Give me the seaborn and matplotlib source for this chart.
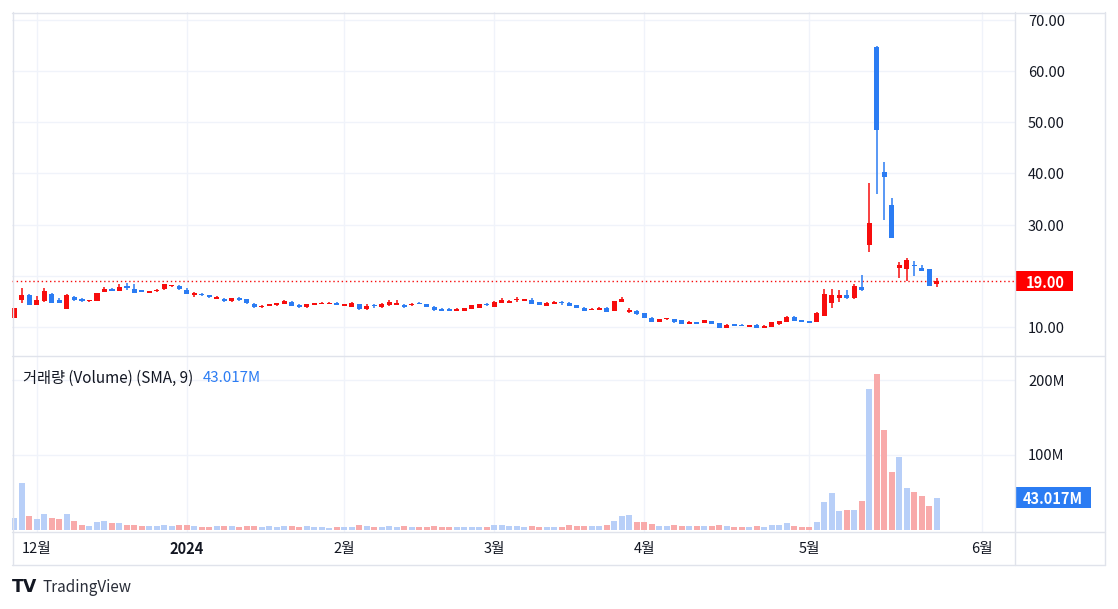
import numpy as np
import pandas as pd
import matplotlib
matplotlib.use("Agg")
import matplotlib.pyplot as plt
import matplotlib.transforms as mtrans
import seaborn as sns
from matplotlib.lines import Line2D
from matplotlib.patches import Rectangle

# ---------------- data ----------------
holidays = ["2023-12-25", "2024-01-01", "2024-01-15", "2024-02-19", "2024-03-29"]
dates = [d for d in pd.bdate_range("2023-11-28", "2024-05-24")
         if d.strftime("%Y-%m-%d") not in holidays]

open_ = [11.8, 15.28, 16.25, 14.36, 15.15, 16.45, 15.28, 13.58, 15.8, 15.47,
         15.0, 15.15, 16.84, 17.5, 17.1, 17.95, 17.43, 17.17, 16.7, 16.97,
         17.36, 17.95, 18.08, 17.23, 16.19, 16.5, 16.25, 15.54, 15.54, 15.0,
         15.73, 15.4, 14.56, 13.84, 14.1, 14.23, 14.5, 14.95, 14.36, 13.84,
         14.36, 14.43, 14.43, 14.6, 14.17, 13.97, 14.5, 13.45, 14.17, 13.84,
         14.23, 14.3, 14.17, 14.23, 14.63, 14.5, 13.97, 13.58, 13.58, 13.19,
         13.19, 13.58, 13.78, 14.43, 13.97, 14.69, 14.76, 15.2, 15.15, 15.34,
         14.82, 14.1, 14.56, 14.76, 14.63, 14.3, 13.78, 13.32, 13.39, 13.78,
         13.19, 14.95, 13.0, 13.19, 12.67, 11.82, 11.0, 11.5, 11.5, 11.37,
         10.65, 10.98, 10.85, 11.17, 10.78, 9.87, 10.52, 10.39, 10.07, 10.46,
         9.87, 10.07, 10.59, 11.04, 11.89, 11.24, 11.1, 11.04, 12.2, 14.76,
         15.73, 16.2, 15.73, 17.75, 26.0, 64.8, 40.2, 33.84, 21.6, 21.4,
         22.12, 21.6, 21.27, 18.34]
high = [13.7, 17.69, 16.4, 16.06, 17.56, 16.7, 15.6, 16.45, 16.06, 15.67,
        15.25, 16.7, 17.75, 17.6, 18.4, 18.66, 18.4, 17.25, 17.1, 17.4,
        18.5, 18.3, 18.2, 17.56, 16.75, 16.6, 16.3, 16.06, 15.6, 15.75,
        15.8, 15.45, 14.6, 14.25, 14.55, 14.7, 15.3, 15.0, 14.4, 14.55,
        14.7, 14.8, 14.9, 14.95, 14.45, 14.8, 14.55, 14.43, 14.5, 14.63,
        15.28, 15.28, 14.5, 14.63, 14.9, 14.55, 14.17, 13.65, 13.65, 13.65,
        13.75, 14.3, 14.5, 14.76, 15.0, 15.6, 15.28, 15.93, 15.5, 15.6,
        14.9, 14.8, 15.0, 15.08, 14.9, 14.35, 13.85, 13.65, 13.85, 13.85,
        15.1, 15.8, 13.65, 13.25, 12.75, 12.0, 11.6, 11.8, 11.6, 11.45,
        11.1, 11.0, 11.45, 11.2, 10.85, 10.6, 10.6, 10.65, 10.45, 10.5,
        10.3, 11.04, 11.24, 12.2, 12.08, 11.4, 11.2, 13.0, 17.43, 17.43,
        17.23, 17.17, 18.34, 20.16, 38.2, 64.83, 42.3, 35.3, 22.77, 23.4,
        22.96, 22.1, 21.3, 19.5]
low = [11.7, 14.76, 14.3, 14.3, 14.82, 14.7, 14.7, 13.5, 15.15, 14.95,
       14.95, 15.1, 16.8, 17.05, 17.05, 17.2, 16.6, 16.8, 16.55, 16.9,
       17.3, 17.9, 17.3, 16.45, 15.93, 16.1, 15.75, 15.5, 14.95, 14.95,
       15.15, 14.5, 13.8, 13.8, 14.05, 14.2, 14.45, 14.05, 13.8, 13.8,
       14.3, 14.4, 14.4, 14.3, 14.1, 13.9, 13.4, 13.4, 13.78, 13.8,
       14.2, 14.25, 13.78, 14.2, 14.4, 13.9, 13.13, 13.13, 13.13, 13.13,
       13.13, 13.5, 13.7, 14.17, 13.9, 14.6, 14.7, 14.9, 15.1, 14.5,
       14.3, 14.05, 14.5, 14.3, 14.1, 13.7, 13.1, 13.3, 13.3, 12.95,
       13.1, 14.8, 12.68, 12.4, 11.7, 10.95, 10.95, 11.45, 10.85, 10.6,
       10.6, 10.6, 10.8, 10.6, 9.8, 9.8, 10.15, 10.15, 10.0, 9.8,
       9.8, 10.0, 10.4, 11.0, 11.2, 11.0, 10.8, 11.0, 12.1, 13.65,
       14.95, 15.4, 15.4, 17.1, 24.6, 36.0, 30.9, 27.4, 19.64, 19.06,
       19.97, 20.9, 18.0, 17.75]
close = [13.65, 16.25, 14.36, 15.28, 17.04, 14.76, 14.76, 16.25, 15.34, 15.0,
         15.2, 16.65, 17.43, 17.1, 17.8, 17.56, 16.7, 16.84, 17.04, 17.3,
         18.4, 18.14, 17.36, 16.5, 16.7, 16.19, 15.8, 15.67, 15.0, 15.67,
         15.2, 14.63, 13.84, 14.17, 14.5, 14.6, 15.0, 14.1, 13.84, 14.5,
         14.6, 14.76, 14.6, 14.36, 14.36, 14.76, 13.45, 14.17, 14.04, 14.43,
         14.82, 14.76, 13.97, 14.43, 14.43, 13.97, 13.32, 13.19, 13.19, 13.58,
         13.71, 14.23, 14.43, 14.23, 14.95, 15.34, 15.0, 15.4, 15.4, 14.56,
         14.36, 14.76, 14.95, 14.63, 14.17, 13.78, 13.19, 13.58, 13.78, 13.0,
         15.08, 15.41, 13.19, 12.48, 11.76, 11.0, 11.56, 11.7, 10.9, 10.65,
         11.04, 10.65, 11.37, 10.65, 9.87, 10.46, 10.2, 10.2, 10.39, 9.87,
         10.26, 10.98, 11.17, 11.95, 11.24, 11.04, 10.85, 12.8, 16.45, 16.25,
         16.25, 15.6, 18.0, 17.23, 30.26, 48.5, 39.3, 27.46, 22.1, 23.1,
         21.92, 21.0, 18.08, 19.0]
volume_m = [15.6, 62.2, 19.1, 14.7, 21.3, 16.0, 14.7, 21.3, 12.0, 7.1,
            5.3, 10.7, 12.0, 9.3, 9.3, 7.1, 7.1, 5.3, 5.3, 5.3,
            7.1, 5.3, 7.1, 7.1, 5.3, 4.0, 4.0, 5.3, 5.3, 5.3,
            4.0, 5.3, 5.3, 4.0, 5.3, 4.0, 5.3, 5.3, 4.0, 5.3,
            4.0, 4.0, 2.7, 4.0, 4.0, 4.0, 7.1, 5.3, 4.0, 4.0,
            5.3, 4.0, 5.3, 4.0, 4.0, 4.0, 5.3, 4.0, 4.0, 4.0,
            4.0, 4.0, 4.0, 4.0, 7.1, 7.1, 5.3, 5.3, 4.0, 5.3,
            4.0, 4.0, 4.0, 4.0, 7.1, 5.3, 5.3, 5.3, 5.3, 7.1,
            12.0, 18.7, 20.4, 10.7, 10.7, 8.4, 5.3, 5.3, 6.7, 5.3,
            5.3, 5.3, 5.3, 5.3, 6.7, 5.3, 4.0, 4.0, 4.0, 5.3,
            4.0, 6.7, 6.7, 8.9, 5.3, 4.0, 4.0, 10.7, 36.9, 48.9,
            24.9, 26.7, 26.7, 38.7, 188.0, 208.0, 133.0, 77.3, 97.3, 56.0,
            50.7, 45.3, 32.4, 43.017]

month_tick_dates = ["2023-12-01", "2024-01-02", "2024-02-01", "2024-03-01",
                    "2024-04-01", "2024-05-01", "2024-06-03"]
month_labels = ["12월", "2024", "2월", "3월", "4월", "5월", "6월"]
price_labels = [10, 30, 40, 50, 60, 70]
price_grid = [10, 20, 30, 40, 50, 60, 70]
volume_labels = [100, 200]
last_price = 19.00
last_volume = 43.017
legend_title = "거래량 (Volume) (SMA, 9)"

# ---------------- styling ----------------
RED = "#f70d0d"
BLUE = "#2b7cf3"
VRED = "#f8aaaa"
VBLUE = "#b8cff8"
GRID = "#f0f3fa"
BORDER = "#e0e3eb"
TXT = "#131722"

sns.set_theme(style="white")
plt.rcParams["font.family"] = ["Noto Sans CJK KR", "DejaVu Sans"]

W, H = 1118, 609
fig = plt.figure(figsize=(W / 100, H / 100), dpi=100)
fig.patch.set_facecolor("white")


def fx(x):
    return x / W


def fy(y):
    return 1 - y / H


L, R = 12, 1015
ax = fig.add_axes([fx(L), fy(356), fx(R) - fx(L), fy(12) - fy(356)])
axv = fig.add_axes([fx(L), fy(532), fx(R) - fx(L), fy(356) - fy(532)])

n = len(dates)
idx = np.arange(n)
o = np.array(open_)
h = np.array(high)
lo = np.array(low)
c = np.array(close)
up = c >= o

# positions of month ticks (future ticks counted in weekdays)
date_strs = [d.strftime("%Y-%m-%d") for d in dates]
tick_pos = []
for t in month_tick_dates:
    if t in date_strs:
        tick_pos.append(date_strs.index(t))
    else:
        extra = len(pd.bdate_range(dates[-1] + pd.Timedelta(days=1), t))
        tick_pos.append(n - 1 + extra)

x0 = 14.3
dx = 7.5
xlim = ((L - x0) / dx, (R - x0) / dx)


def price_at(Y):
    return 10 + (327 - Y) / 5.117


def vol_at(Y):
    return (530 - Y) / 0.75


# ---------------- price pane ----------------
for g in price_grid:
    ax.axhline(g, color=GRID, lw=1, zorder=0)
for p in tick_pos:
    ax.axvline(p, color=GRID, lw=1, zorder=0)
    axv.axvline(p, color=GRID, lw=1, zorder=0)

cols = np.where(up, RED, BLUE)
ax.vlines(idx, lo, h, colors=cols, lw=1.1, zorder=2)
body_bottom = np.minimum(o, c)
body_h = np.maximum(np.abs(c - o), 0.28)
ax.bar(idx, body_h, bottom=body_bottom, width=0.72, color=cols, linewidth=0, zorder=3)

ax.axhline(last_price, color=RED, lw=1, ls=(0, (1, 2)), zorder=1)
ax.set_xlim(*xlim)
ax.set_ylim(price_at(356), price_at(12))

# ---------------- volume pane (seaborn) ----------------
for g in volume_labels:
    axv.axhline(g, color=GRID, lw=1, zorder=0)
vdf = pd.DataFrame({"i": idx, "vol": volume_m, "dir": np.where(up, "up", "down")})
sns.barplot(data=vdf, x="i", y="vol", hue="dir",
            palette={"up": VBLUE, "down": VRED}, native_scale=True, dodge=False,
            saturation=1, errorbar=None, width=0.84, legend=False, ax=axv,
            linewidth=0, zorder=2)
axv.set_xlim(*xlim)
axv.set_ylim(vol_at(532), vol_at(356))

for a in (ax, axv):
    a.set_xlabel("")
    a.set_ylabel("")
    a.set_xticks([])
    a.set_yticks([])
    for s in a.spines.values():
        s.set_visible(False)
    a.set_facecolor("none")

# ---------------- right axis labels ----------------
lab_x = (1028 - L) / (R - L)
p_tr = mtrans.offset_copy(ax.get_yaxis_transform(), fig=fig, x=0, y=-2, units="dots")
v_tr = mtrans.offset_copy(axv.get_yaxis_transform(), fig=fig, x=0, y=-1.5, units="dots")
for v in price_labels:
    ax.text(lab_x, v, f"{v:.2f}", transform=p_tr,
            ha="left", va="center", fontsize=10.5, color=TXT, clip_on=False)
for v in volume_labels:
    axv.text(lab_x, v, f"{v}M", transform=v_tr,
             ha="left", va="center", fontsize=10.5, color=TXT, clip_on=False)

# last price badge
bh = 20 / 5.117
ax.add_patch(Rectangle((1.0, last_price - bh / 2), (1073 - R) / (R - L), bh,
                       transform=ax.get_yaxis_transform(), facecolor="#ff0000",
                       edgecolor="none", clip_on=False, zorder=5))
ax.text((1045 - L) / (R - L), last_price, f"{last_price:.2f}", transform=p_tr,
        ha="center", va="center", fontsize=10.5, color="white", fontweight="bold",
        clip_on=False, zorder=6)

# last volume badge
vh = 21 / 0.75
axv.add_patch(Rectangle((1.0, last_volume - vh / 2), (1091 - R) / (R - L), vh,
                        transform=axv.get_yaxis_transform(), facecolor="#2b7cf3",
                        edgecolor="none", clip_on=False, zorder=5))
axv.text((1053 - L) / (R - L), last_volume, f"{last_volume:.3f}M", transform=v_tr,
         ha="center", va="center", fontsize=10.5, color="white", fontweight="bold",
         clip_on=False, zorder=6)

# ---------------- time axis labels ----------------
ty = (532 - 549) / (532 - 356)
for p, lab in zip(tick_pos, month_labels):
    axv.text(p, ty, lab, transform=axv.get_xaxis_transform(), ha="center",
             va="center", fontsize=10.5, color=TXT, clip_on=False,
             fontweight="bold" if lab == "2024" else "normal")

# ---------------- legend ----------------
fig.text(fx(23), fy(378), legend_title, ha="left", va="center",
         fontsize=11, color=TXT)
fig.text(fx(203), fy(378), f"{last_volume:.3f}M", ha="left", va="center",
         fontsize=10.8, color=BLUE)

# ---------------- frame lines ----------------
def hline(y, x1, x2):
    fig.add_artist(Line2D([fx(x1), fx(x2)], [fy(y), fy(y)], color=BORDER, lw=1,
                          transform=fig.transFigure))


def vline(x, y1, y2):
    fig.add_artist(Line2D([fx(x), fx(x)], [fy(y1), fy(y2)], color=BORDER, lw=1,
                          transform=fig.transFigure))


hline(12.5, 12, 1105)
hline(564.5, 12, 1105)
hline(356, 12, 1105)
hline(532, 12, 1105)
vline(12.5, 12, 565)
vline(1104.5, 12, 565)
vline(1015, 12, 565)

# ---------------- watermark ----------------
fig.text(fx(12), fy(587), "TV", ha="left", va="center", fontsize=12.5,
         fontweight="bold", color=TXT, family="DejaVu Sans")
fig.text(fx(42), fy(587), "TradingView", ha="left", va="center", fontsize=11,
         color="#2a2e39")

fig.savefig("out.png", dpi=100, facecolor="white")
